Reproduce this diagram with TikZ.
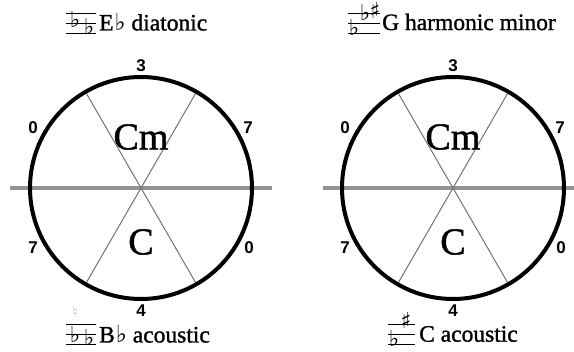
\documentclass[tikz,border=0pt]{standalone}
\usepackage{fontspec}
\setmainfont[FakeBold=1.2]{Liberation Serif}
\newfontfamily\heavyserif[FakeBold=1.2]{Liberation Serif}
\newfontfamily\digitfont{Liberation Sans}
\newfontfamily\symfont{DejaVu Sans}
\usetikzlibrary{calc}
\begin{document}
\begin{tikzpicture}[x=1pt,y=-1pt,
  axisline/.style={draw=gray!85,line width=4pt},
  chord/.style={line width=1pt,draw=black!55},
  ring/.style={draw=black,line width=4pt},
  num/.style={font=\digitfont\bfseries\fontsize{17}{17}\selectfont,inner sep=0pt},
  chordname/.style={font=\heavyserif\fontsize{38}{38}\selectfont,inner sep=0pt},
  title/.style={font=\heavyserif\fontsize{23.5}{24}\selectfont,inner sep=0pt,anchor=west},
  staffline/.style={draw=black,line width=1pt},
  acc/.style={font=\symfont\fontsize{22}{22}\selectfont,inner sep=0pt},
]
\useasboundingbox (0,0) rectangle (574,352);

% ---------- left circle ----------
\coordinate (cL) at (141,188);
\coordinate (gL1) at (10,188);
\coordinate (gL2) at (272,188);
\draw[axisline] (gL1) -- (gL2);
\draw[chord] ($(cL)+(120:110)$) -- ($(cL)+(-60:110)$);
\draw[chord] ($(cL)+(60:110)$) -- ($(cL)+(-120:110)$);
\draw[ring] (cL) circle (111);
\node[num] (L3) at (141,66) {3};
\node[num] (L0a) at (33,128) {0};
\node[num] (L7a) at (248,128) {7};
\node[num] (L7b) at (33,248) {7};
\node[num] (L0b) at (249,248) {0};
\node[num] (L4) at (141,311) {4};
\node[chordname] (LCm) at (141,137) {Cm};
\node[chordname] (LC) at (141,242) {C};

% ---------- right circle ----------
\coordinate (cR) at (453,188);
\coordinate (gR1) at (323,188);
\coordinate (gR2) at (574,188);
\draw[axisline] (gR1) -- (gR2);
\draw[chord] ($(cR)+(120:110)$) -- ($(cR)+(-60:110)$);
\draw[chord] ($(cR)+(60:110)$) -- ($(cR)+(-120:110)$);
\draw[ring] (cR) circle (111);
\node[num] (R3) at (453,66) {3};
\node[num] (R0a) at (345,128) {0};
\node[num] (R7a) at (560,128) {7};
\node[num] (R7b) at (345,248) {7};
\node[num] (R0b) at (561,248) {0};
\node[num] (R4) at (453,311) {4};
\node[chordname] (RCm) at (453,137) {Cm};
\node[chordname] (RC) at (453,242) {C};

% ---------- titles ----------
% top left
\foreach \yy in {14,24,34} \draw[staffline] (66,\yy) -- (96,\yy);
\node[acc] (tla) at (75,19) {♭};
\node[acc] (tlb) at (89,26) {♭};
\node[title] (tlt) at (99,22) {E\kern1pt{\symfont ♭} diatonic};
% top right
\foreach \yy in {14,24,34} \draw[staffline] (348,\yy) -- (380,\yy);
\node[acc] (tra) at (354,27) {♭};
\node[acc] (trb) at (365,12) {♭};
\node[acc] (trc) at (375,10) {♯};
\node[title] (trt) at (382,22) {G harmonic minor};
% bottom left
\foreach \yy in {325,335,345} \draw[staffline] (66,\yy) -- (96,\yy);
\node[acc,text=gray!55,font=\symfont\fontsize{15}{15}\selectfont] (bln) at (75,312) {♮};
\node[acc] (bla) at (75,334) {♭};
\node[acc] (blb) at (89,337) {♭};
\node[title] (blt) at (99,334) {B\kern1pt{\symfont ♭} acoustic};
% bottom right
\foreach \yy in {325,335,345} \draw[staffline] (388,\yy) -- (415,\yy);
\node[acc] (bra) at (394,338) {♭};
\node[acc] (brb) at (406,320) {♯};
\node[title] (brt) at (419,334) {C acoustic};
\end{tikzpicture}
\end{document}
